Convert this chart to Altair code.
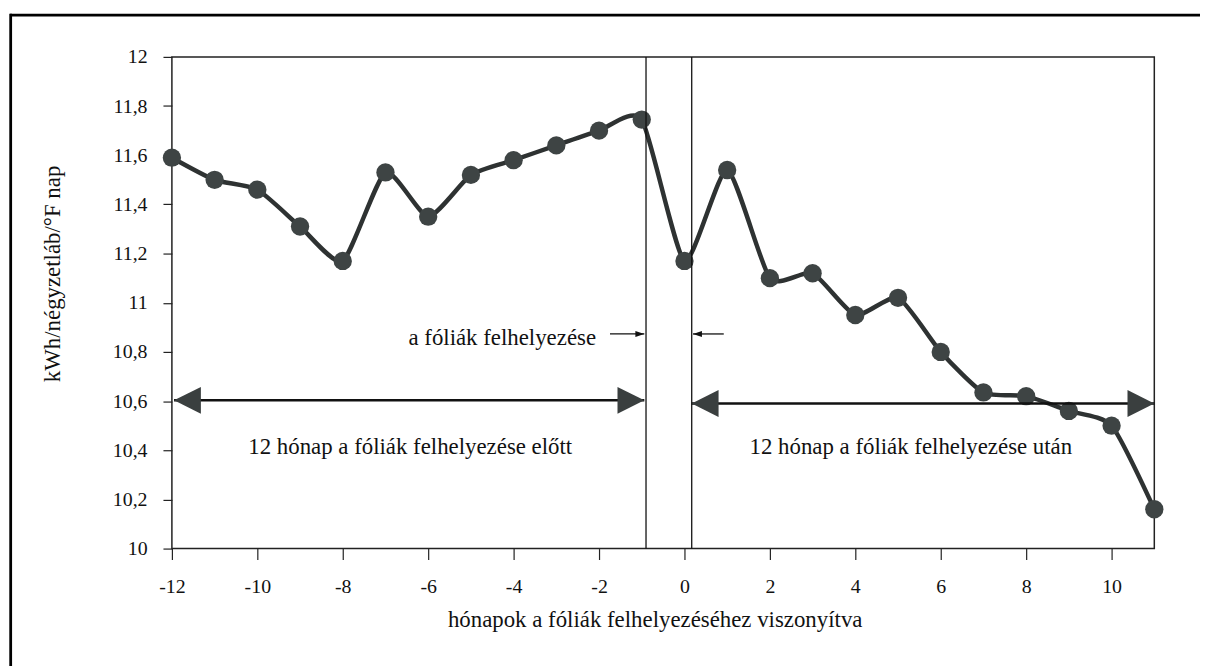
import altair as alt
import pandas as pd

# ---- data ----
months = list(range(-12, 12))
values = [11.59, 11.50, 11.46, 11.31, 11.17, 11.53, 11.35, 11.52, 11.58, 11.64, 11.70, 11.745,
          11.17, 11.54, 11.10, 11.12, 10.95, 11.02, 10.80, 10.635, 10.62, 10.56, 10.50, 10.16]
x_ticks = [-12, -10, -8, -6, -4, -2, 0, 2, 4, 6, 8, 10]
y_ticks = [10, 10.2, 10.4, 10.6, 10.8, 11, 11.2, 11.4, 11.6, 11.8, 12]
install_lines = [-0.9, 0.17]

span_x1 = [-11.95, 0.17]
span_x2 = [-0.94, 11.0]
span_y = [10.603, 10.59]

small_tail = [-1.744, 0.92]
small_tip = [-0.94, 0.2]
small_y = [10.873, 10.873]

label_texts = ["a fóliák felhelyezése",
               "12 hónap a fóliák felhelyezése előtt",
               "12 hónap a fóliák felhelyezése után"]
label_x = [-2.07, -6.42, 5.30]
label_y = [10.857, 10.415, 10.415]
label_align = ["right", "center", "center"]

x_title = "hónapok a fóliák felhelyezéséhez viszonyítva"
y_title = "kWh/négyzetláb/°F nap"

FONT = "Liberation Serif, Times New Roman, serif"
W, H = 989, 495

series = pd.DataFrame({"month": months, "value": values})
vlines = pd.DataFrame({"x": install_lines})
spans = pd.DataFrame({"x1": span_x1, "x2": span_x2, "y": span_y})
smalls = pd.DataFrame({"tail": small_tail, "tip": small_tip, "y": small_y,
                       "dir": ["right", "left"]})
labels = pd.DataFrame({"text": label_texts, "x": label_x, "y": label_y, "align": label_align})
one = pd.DataFrame({"k": [0]})

xscale = alt.Scale(domain=[-12, 11], nice=False, zero=False)
yscale = alt.Scale(domain=[10, 12], nice=False, zero=False)

xaxis = alt.Axis(values=x_ticks, labelExpr="toString(datum.value)", title=x_title,
                 grid=False, domain=False, tickSize=11, tickColor="#222", tickWidth=1.2,
                 labelFont=FONT, labelFontSize=20, labelColor="#111", labelPadding=17,
                 labelFlush=False, labelOverlap=False,
                 titleFont=FONT, titleFontSize=23, titleFontWeight="normal", titleColor="#111",
                 titleX=486, titleY=71, titleBaseline="middle", titleAnchor="middle")
yaxis = alt.Axis(values=y_ticks, labelExpr="replace(toString(datum.value), '.', ',')",
                 title=y_title, grid=False, domain=False, tickSize=9, tickColor="#222",
                 tickWidth=1.2, labelFont=FONT, labelFontSize=20, labelColor="#111",
                 labelPadding=16, labelFlush=False, labelOverlap=False,
                 titleFont=FONT, titleFontSize=23, titleFontWeight="normal", titleColor="#111",
                 titleAngle=-90, titleX=-120, titleY=218, titleBaseline="middle",
                 titleAlign="center")

base_x = alt.X("month:Q", scale=xscale, axis=xaxis)
base_y = alt.Y("value:Q", scale=yscale, axis=yaxis)

line = alt.Chart(series).mark_line(interpolate="cardinal", tension=0.4, color="#2e3232",
                                   strokeWidth=4.5).encode(x=base_x, y=base_y)
points = alt.Chart(series).mark_circle(size=340, color="#3e4444", opacity=1).encode(
    x="month:Q", y="value:Q")

vrules = alt.Chart(vlines).mark_rule(color="#111", strokeWidth=1.3).encode(
    x=alt.X("x:Q", scale=xscale), y=alt.value(0), y2=alt.value(H))

span_rules = alt.Chart(spans).mark_rule(color="#111", strokeWidth=2.6).encode(
    x=alt.X("x1:Q", scale=xscale), x2="x2:Q", y=alt.Y("y:Q", scale=yscale))
head_shape_r = "M-2,-1L0,0L-2,1Z"
head_shape_l = "M2,-1L0,0L2,1Z"
span_heads_l = alt.Chart(spans).mark_point(shape=head_shape_l, size=729, filled=True,
                                           color="#3a3f3f", opacity=1).encode(
    x=alt.X("x1:Q", scale=xscale), y=alt.Y("y:Q", scale=yscale))
span_heads_r = alt.Chart(spans).mark_point(shape=head_shape_r, size=729, filled=True,
                                           color="#3a3f3f", opacity=1).encode(
    x=alt.X("x2:Q", scale=xscale), y=alt.Y("y:Q", scale=yscale))

small_rules = alt.Chart(smalls).mark_rule(color="#111", strokeWidth=1.3).encode(
    x=alt.X("tail:Q", scale=xscale), x2="tip:Q", y=alt.Y("y:Q", scale=yscale))
small_head_r = alt.Chart(smalls).transform_filter(alt.datum.dir == "right").mark_point(
    shape="M-3,-1L0,0L-3,1Z", filled=True, color="#111", opacity=1, size=36).encode(
    x=alt.X("tip:Q", scale=xscale), y=alt.Y("y:Q", scale=yscale))
small_head_l = alt.Chart(smalls).transform_filter(alt.datum.dir == "left").mark_point(
    shape="M3,-1L0,0L3,1Z", filled=True, color="#111", opacity=1, size=36).encode(
    x=alt.X("tip:Q", scale=xscale), y=alt.Y("y:Q", scale=yscale))

text_right = alt.Chart(labels).transform_filter(alt.datum.align == "right").mark_text(
    font=FONT, fontSize=23, color="#111", baseline="middle", align="right").encode(
    x=alt.X("x:Q", scale=xscale), y=alt.Y("y:Q", scale=yscale), text="text:N")
text_center = alt.Chart(labels).transform_filter(alt.datum.align == "center").mark_text(
    font=FONT, fontSize=23, color="#111", baseline="middle", align="center").encode(
    x=alt.X("x:Q", scale=xscale), y=alt.Y("y:Q", scale=yscale), text="text:N")

border_top = alt.Chart(one).mark_rule(color="#000", strokeWidth=2.8).encode(
    x=alt.value(-163), x2=alt.value(1040), y=alt.value(-42))
border_left = alt.Chart(one).mark_rule(color="#000", strokeWidth=2.8).encode(
    x=alt.value(-162.3), y=alt.value(-43.4), y2=alt.value(620))

chart = alt.layer(
    line, points, vrules, span_rules, span_heads_l, span_heads_r,
    small_rules, small_head_r, small_head_l, text_right, text_center,
    border_top, border_left
).properties(
    width=W, height=H,
    padding={"left": 165, "top": 47, "right": 46, "bottom": 116},
    autosize=alt.AutoSizeParams(type="none"),
    background="white",
).configure_view(stroke="#222", strokeWidth=1.5)

chart.save("out.html", embed_options={"renderer": "svg", "actions": False})
